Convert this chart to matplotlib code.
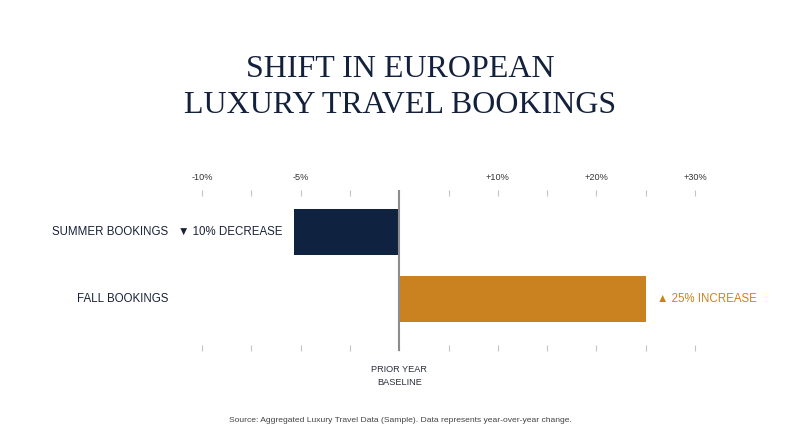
import matplotlib
matplotlib.use('Agg')
import matplotlib.pyplot as plt

# Datos
categorias = ['SUMMER BOOKINGS', 'FALL BOOKINGS']
valores = [-10.7, 25]
etiquetas = ['▼ 10% DECREASE', '▲ 25% INCREASE']
colores = ['#0f2340', '#c9821f']
tick_pos = [-20, -15, -10, -5, 0, 5, 10, 15, 20, 25, 30]
tick_lab = ['-10%', '', '-5%', '', '', '', '+10%', '', '+20%', '', '+30%']

sans = ['Liberation Sans', 'DejaVu Sans']

W, H = 800, 447
fig = plt.figure(figsize=(8, 4.47), dpi=100)
fig.patch.set_facecolor('white')

# Ejes colocados en pixeles
px_unit = 9.86
x_lo, x_hi = -20.5, 30.5
left_px = 202 - 0.5 * px_unit
right_px = 695 + 0.5 * px_unit
top_px, bot_px = 190, 351
ax = fig.add_axes([left_px / W, 1 - bot_px / H, (right_px - left_px) / W, (bot_px - top_px) / H])
ax.set_xlim(x_lo, x_hi)
ax.set_ylim(1 + 52 / 67, -42 / 67)

ys = list(range(len(categorias)))
ax.barh(ys, valores, height=46 / 67, color=colores, zorder=2)
ax.axvline(0, color='#8c8c8c', lw=1.5, zorder=3)

for s in ax.spines.values():
    s.set_visible(False)

ax.set_xticks(tick_pos)
ax.set_xticklabels(tick_lab)
ax.tick_params(axis='x', which='both', direction='in', length=4.5, width=0.8, color='#c4c4c4',
               top=True, bottom=True, labeltop=True, labelbottom=False,
               labelsize=6.6, labelcolor='#333333', pad=6)
for lab in ax.get_xticklabels():
    lab.set_family(sans)
ax.set_yticks([])

# Nombres de categorias y etiquetas de valor
for y, cat, v, lab, col in zip(ys, categorias, valores, etiquetas, colores):
    ax.text(-23.4, y, cat, ha='right', va='center', fontsize=8.3, color='#1a2238', family=sans)
    if v < 0:
        ax.text(v - 1.1, y, lab, ha='right', va='center', fontsize=8.3, color='#1a2238', family=sans)
    else:
        ax.text(v + 1.1, y, lab, ha='left', va='center', fontsize=8.3, color=col, family=sans)

ax.text(0, 1 + (376 - 299) / 67, 'PRIOR YEAR\nBASELINE', ha='center', va='center',
        fontsize=6.6, color='#2a2f3d', linespacing=1.5, family=sans)

# Titulo
fig.text(0.5, 1 - 77 / H, 'SHIFT IN EUROPEAN', ha='center', va='baseline',
         fontsize=23, color='#14213d', family='Liberation Serif')
fig.text(0.5, 1 - 113 / H, 'LUXURY TRAVEL BOOKINGS', ha='center', va='baseline',
         fontsize=23, color='#14213d', family='Liberation Serif')

fig.text(0.5, 1 - 420 / H,
         'Source: Aggregated Luxury Travel Data (Sample). Data represents year-over-year change.',
         ha='center', va='center', fontsize=6.1, color='#444444', family=sans)

plt.savefig('out.png', dpi=100)
